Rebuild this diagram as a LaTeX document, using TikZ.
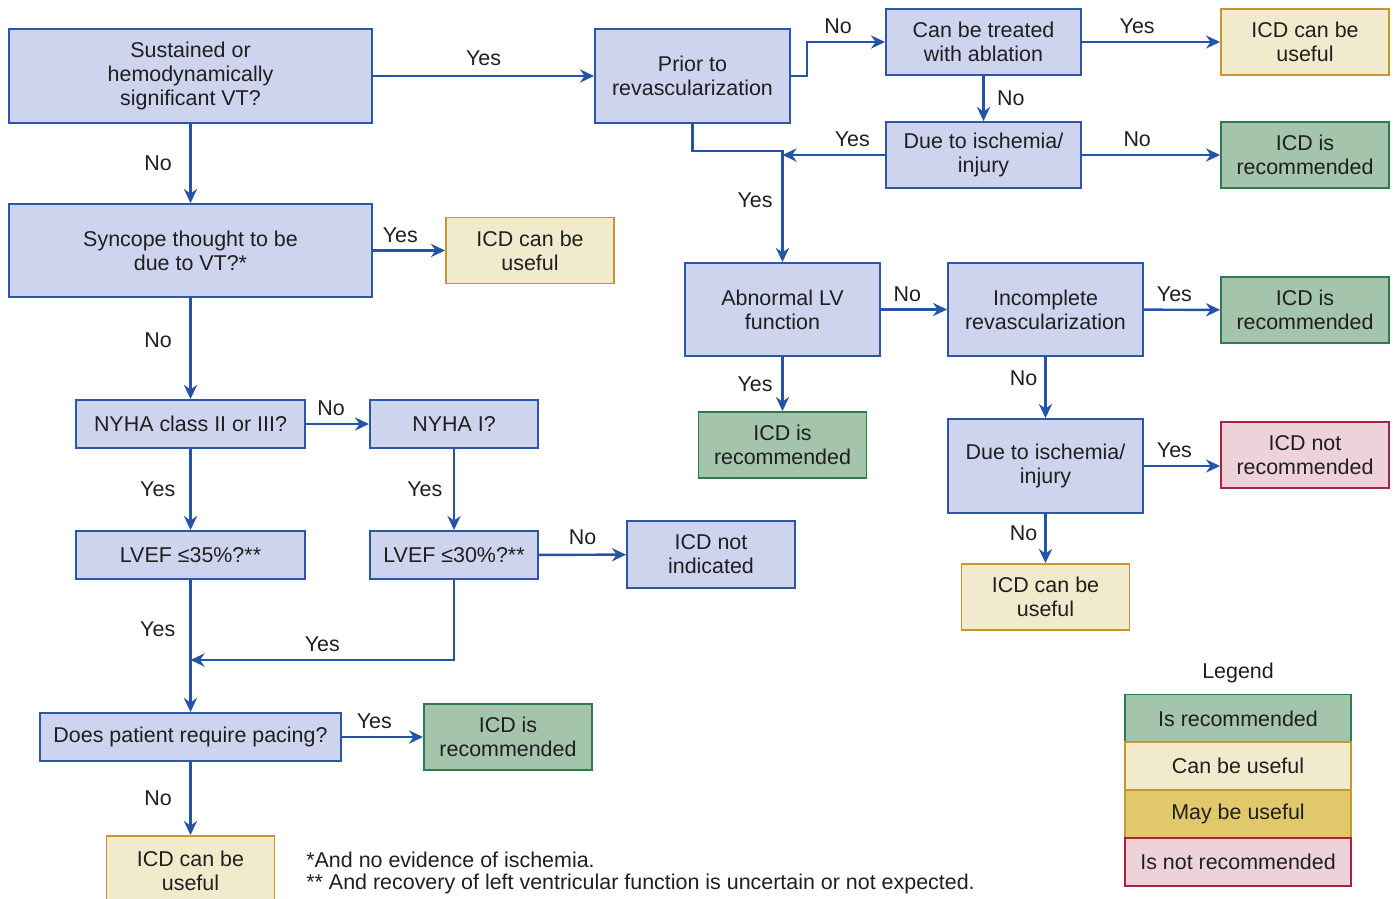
\documentclass[tikz,border=0pt]{standalone}
\usepackage{fontspec}
\setmainfont{Liberation Sans}
\usetikzlibrary{arrows.meta}

\definecolor{qfill}{HTML}{CED4EE}
\definecolor{qline}{HTML}{2C56A8}
\definecolor{arrowc}{HTML}{2553A5}
\definecolor{recfill}{HTML}{A5C4AC}
\definecolor{recline}{HTML}{2E7B4F}
\definecolor{usefill}{HTML}{F1EACC}
\definecolor{useline}{HTML}{C9962E}
\definecolor{mayfill}{HTML}{E1C96B}
\definecolor{mayline}{HTML}{C29A2B}
\definecolor{notfill}{HTML}{EDD2D9}
\definecolor{notline}{HTML}{A52443}

\begin{document}
\begin{tikzpicture}[
  x=0.02cm, y=-0.02cm,
  font=\fontsize{12.2}{13.7}\selectfont,
  every node/.append style={text=black!88},
  box/.style={draw, line width=1.1pt, align=center, inner sep=0pt},
  q/.style={box, draw=qline, fill=qfill},
  res/.style={box, minimum width=3.36cm, minimum height=1.32cm},
  recbox/.style={res, draw=recline, fill=recfill},
  usebox/.style={res, draw=useline, fill=usefill},
  notbox/.style={res, draw=notline, fill=notfill},
  noind/.style={res, draw=qline, fill=qfill},
  leg/.style={box, minimum width=4.52cm, minimum height=0.96cm},
  rel/.style={-{Stealth[length=8pt,width=7.5pt]}, line width=1.4pt, draw=arrowc},
  lab/.style={inner sep=1pt}
]
\useasboundingbox (0,0) rectangle (1396,899);

% left column --- VT, syncope, NYHA, LVEF, pacing
\node[q, minimum width=7.26cm, minimum height=1.88cm] (vt) at (190.5,76)
  {Sustained or\\hemodynamically\\significant VT?};
\node[q, minimum width=7.26cm, minimum height=1.86cm] (sync) at (190.5,250.5)
  {Syncope thought to be\\due to VT?*};
\node[usebox] (use3) at (530,250.5) {ICD can be\\useful};
\node[q, minimum width=4.58cm, minimum height=0.96cm] (nyhaB) at (190.5,424)
  {NYHA class II or III?};
\node[q, minimum width=3.36cm, minimum height=0.96cm] (nyhaA) at (454,424)
  {NYHA I?};
\node[q, minimum width=4.58cm, minimum height=0.96cm] (ef35) at (190.5,555)
  {LVEF ≤35\%?**};
\node[q, minimum width=3.36cm, minimum height=0.96cm] (ef30) at (454,555)
  {LVEF ≤30\%?**};
\node[noind, minimum height=1.34cm] (notind) at (711,554.5) {ICD not\\indicated};
\node[q, minimum width=6.02cm, minimum height=0.96cm] (pace) at (190.5,737)
  {Does patient require pacing?};
\node[recbox] (rec4) at (508,737) {ICD is\\recommended};
\node[usebox, minimum height=1.4cm] (use4) at (190.5,871) {ICD can be\\useful};

% right part --- revascularization branch
\node[q, minimum width=3.9cm, minimum height=1.88cm] (prior) at (692.5,76)
  {Prior to\\revascularization};
\node[q, minimum width=3.9cm, minimum height=1.32cm] (abl) at (983.5,42)
  {Can be treated\\with ablation};
\node[usebox] (use1) at (1305,42) {ICD can be\\useful};
\node[q, minimum width=3.9cm, minimum height=1.32cm] (isch1) at (983.5,155)
  {Due to ischemia/\\injury};
\node[recbox] (rec1) at (1305,155) {ICD is\\recommended};
\node[q, minimum width=3.9cm, minimum height=1.86cm] (lv) at (782.5,309.5)
  {Abnormal LV\\function};
\node[q, minimum width=3.9cm, minimum height=1.86cm] (incomp) at (1045.5,309.5)
  {Incomplete\\revascularization};
\node[recbox] (rec2) at (1305,310) {ICD is\\recommended};
\node[recbox] (rec3) at (782.5,445) {ICD is\\recommended};
\node[q, minimum width=3.9cm, minimum height=1.88cm] (isch2) at (1045.5,466)
  {Due to ischemia/\\injury};
\node[notbox] (notrec) at (1305,455) {ICD not\\recommended};
\node[usebox] (use2) at (1045.5,597) {ICD can be\\useful};

% connectors, left column
\draw[rel] (vt) -- node[lab, above=4pt]{Yes} (prior);
\draw[rel] (vt) -- node[lab, left=9pt]{No} (sync);
\draw[rel] (sync) -- node[lab, pos=0.38, above=3pt]{Yes} (use3);
\draw[rel] (sync) -- node[lab, pos=0.42, left=9pt]{No} (nyhaB);
\draw[rel] (nyhaB) -- node[lab, pos=0.4, above=3pt]{No} (nyhaA);
\draw[rel] (nyhaB) -- node[lab, left=7pt]{Yes} (ef35);
\draw[rel] (nyhaA) -- node[lab, left=5pt]{Yes} (ef30);
\draw[rel] (ef30) -- node[lab, above=4pt]{No} (notind);
\draw[rel] (ef35) -- node[lab, pos=0.37, left=7pt]{Yes} (pace);
\coordinate (merge) at (190.5,660);
\draw[rel] (ef30.south) |- node[lab, pos=0.75, above=3pt]{Yes} (merge);
\draw[rel] (pace) -- node[lab, pos=0.4, above=3pt]{Yes} (rec4);
\draw[rel] (pace) -- node[lab, left=9pt]{No} (use4);

% connectors, right part
\draw[rel] (prior.east) -- ++(16,0) |- node[lab, pos=0.7, above=3pt]{No} (abl.west);
\draw[rel] (abl) -- node[lab, pos=0.4, above=3pt]{Yes} (use1);
\draw[rel] (abl) -- node[lab, right=6pt]{No} (isch1);
\draw[rel] (isch1) -- node[lab, pos=0.4, above=3pt]{No} (rec1);
\draw[rel] (isch1.west) -- node[lab, pos=0.32, above=3pt]{Yes} (isch1.west -| lv.north);
\draw[rel] (prior.south) -- ++(0,27) -| node[lab, pos=0.72, left=4pt]{Yes} (lv.north);
\draw[rel] (lv) -- node[lab, pos=0.4, above=3pt]{No} (incomp);
\draw[rel] (lv) -- node[lab, left=4pt]{Yes} (rec3);
\draw[rel] (incomp) -- node[lab, pos=0.4, above=3pt]{Yes} (rec2);
\draw[rel] (incomp) -- node[lab, pos=0.35, left=3pt]{No} (isch2);
\draw[rel] (isch2.east) -- node[lab, pos=0.4, above=3pt]{Yes} (isch2.east -| notrec.west);
\draw[rel] (isch2) -- node[lab, pos=0.4, left=3pt]{No} (use2);

% legend
\node (legtitle) at (1238,673) {Legend};
\node[leg, draw=recline, fill=recfill] (lg1) at (1238,718.5) {Is recommended};
\node[leg, draw=useline, fill=usefill] (lg2) at (1238,766) {Can be useful};
\node[leg, draw=mayline, fill=mayfill] (lg3) at (1238,814) {May be useful};
\node[leg, draw=notline, fill=notfill] (lg4) at (1238,862) {Is not recommended};

% footnotes
\node[anchor=west, inner sep=0pt] (fn1) at (306,860) {*And no evidence of ischemia.};
\node[anchor=west, inner sep=0pt] (fn2) at (306,884)
  {** And recovery of left ventricular function is uncertain or not expected.};
\end{tikzpicture}
\end{document}
